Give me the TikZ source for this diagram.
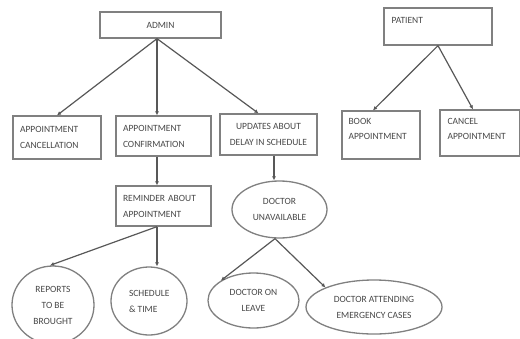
\documentclass[tikz,border=0pt]{standalone}
\usepackage{fontspec}
\setmainfont{Carlito}
\usetikzlibrary{shapes.geometric,arrows.meta}
\definecolor{lc}{HTML}{585858}
\definecolor{bc}{HTML}{808080}
\definecolor{tc}{HTML}{484848}
\begin{document}
\begin{tikzpicture}[x=1pt,y=-1pt,
  every node/.style={font=\fontsize{9.5}{16}\selectfont, text=tc},
  box/.style={draw=bc, line width=1.3pt, rectangle, inner sep=0pt, align=left},
  oval/.style={draw=bc, line width=1.3pt, ellipse, inner sep=0pt, align=center},
  conn/.style={draw=lc, line width=1.2pt, -{Latex[length=4pt,width=4pt]}},
  lbl/.style={anchor=north west, inner sep=0pt, align=left, font=\fontsize{9.5}{15}\selectfont, text=tc}]
\useasboundingbox (0,0) rectangle (520,338);
\clip (0,0) rectangle (520,338);
\fill[white] (0,0) rectangle (520,338);
% boxes
\node[box, minimum width=121, minimum height=26, align=center] (admin) at (160.5,25) {ADMIN};
\node[box, minimum width=108, minimum height=37,
  label={[lbl, xshift=8pt, yshift=-10pt]north west:PATIENT}] (patient) at (438,26.5) {};
\node[box, minimum width=88, minimum height=43, text width=74] (canc) at (57,137.5) {APPOINTMENT\\CANCELLATION};
\node[box, minimum width=95, minimum height=40, text width=81] (conf) at (163.5,136) {APPOINTMENT\\CONFIRMATION};
\node[box, minimum width=97, minimum height=41, align=center] (upd) at (268.5,134.5) {UPDATES ABOUT\\DELAY IN SCHEDULE};
\node[box, minimum width=78, minimum height=48,
  label={[lbl, xshift=7pt, yshift=-8pt]north west:{BOOK\\APPOINTMENT}}] (book) at (381,135) {};
\node[box, minimum width=80, minimum height=46,
  label={[lbl, xshift=8pt, yshift=-9pt]north west:{CANCEL\\APPOINTMENT}}] (cancel) at (480,133) {};
\node[box, minimum width=95, minimum height=40, text width=81] (rem) at (163.5,206) {REMINDER ABOUT\\APPOINTMENT};
% ellipses
\node[oval, minimum width=82, minimum height=78] (reports) at (53,305) {REPORTS\\TO BE\\BROUGHT};
\node[oval, minimum width=76, minimum height=68] (sched) at (149,301) {\parbox{40pt}{SCHEDULE\\\& TIME}};
\node[oval, minimum width=95, minimum height=57] (unav) at (279.5,209.5) {DOCTOR\\UNAVAILABLE};
\node[oval, minimum width=91, minimum height=55] (leave) at (253.5,300.5) {DOCTOR ON\\LEAVE};
\node[oval, minimum width=136, minimum height=54] (emerg) at (374,307) {DOCTOR ATTENDING\\EMERGENCY CASES};
% connectors
\draw[conn] ([xshift=-3.5pt]admin.south) -- (canc.north);
\draw[conn] ([xshift=-3.5pt]admin.south) -- ([xshift=-6.5pt]conf.north);
\draw[conn] ([xshift=-3.5pt]admin.south) -- ([xshift=-10pt]upd.north);
\draw[conn] (patient.south) -- ([xshift=-8pt]book.north);
\draw[conn] (patient.south) -- ([xshift=-7pt]cancel.north);
\draw[conn] ([xshift=-6.5pt]conf.south) -- ([xshift=-6.5pt]rem.north);
\draw[conn] ([xshift=-6.5pt]rem.south) -- ([xshift=-3pt]reports.north);
\draw[conn] ([xshift=-6.5pt]rem.south) -- ([xshift=8pt]sched.north);
\draw[conn] ([xshift=5.5pt]upd.south) -- ([xshift=-5.5pt]unav.north);
\draw[conn] ([xshift=-4.5pt]unav.south) -- (leave.north west);
\draw[conn] ([xshift=-4.5pt]unav.south) -- (emerg.north west);
\end{tikzpicture}
\end{document}
